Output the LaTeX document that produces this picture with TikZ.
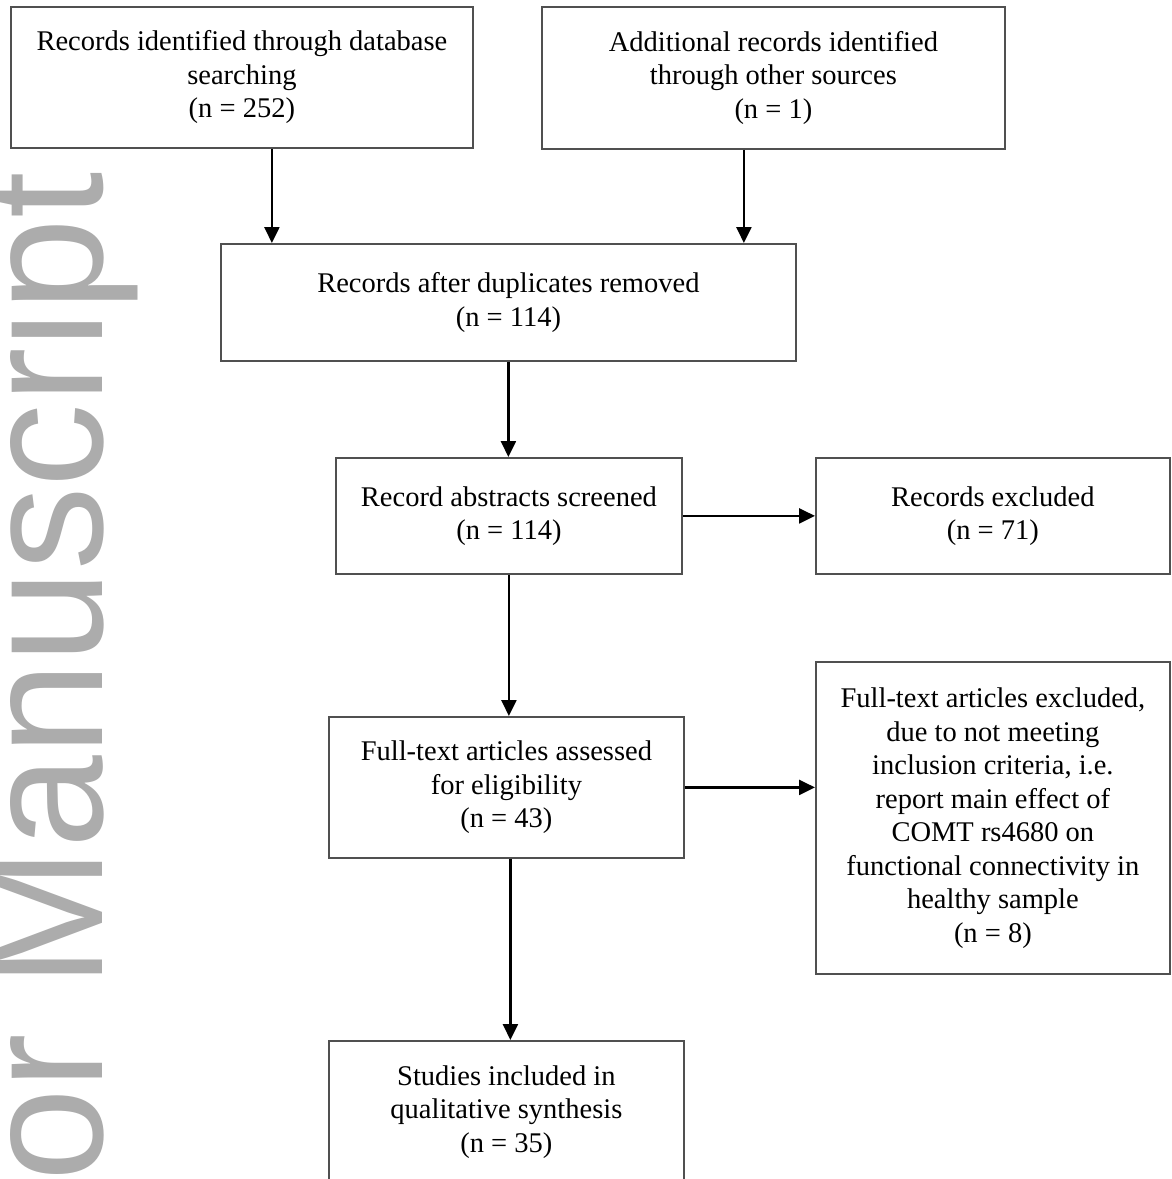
\documentclass[tikz,border=0pt]{standalone}
\usepackage{fontspec}
\setmainfont{Liberation Serif}
\newfontfamily\wmfont{Liberation Sans}
\usetikzlibrary{arrows.meta}
\definecolor{boxgray}{RGB}{80,80,80}
\definecolor{wmgray}{RGB}{172,172,172}
\begin{document}
\begin{tikzpicture}[x=1pt,y=-1pt,
  box/.style={draw=boxgray, line width=1.8pt, anchor=north west, align=center,
    inner sep=0pt, text=black, font=\fontsize{28.5}{33.5}\selectfont},
  arr/.style={-{Triangle[length=16pt,width=15pt]}, line width=2.4pt, draw=black}]
\useasboundingbox (0,0) rectangle (1171,1179);
\clip (0,0) rectangle (1171,1179);
\fill[white] (0,0) rectangle (1171,1179);
\node[text=wmgray, rotate=90, anchor=base west, inner sep=0pt,
  font=\wmfont\fontsize{171}{171}\selectfont] (wm) at (102,1182)
  {\scalebox{0.975}[1]{or Manuscript}};

\node[box, minimum width=462pt, minimum height=141pt] (A) at (10,6)
  {Records identified through database\\searching\\(n = 252)};
\node[box, minimum width=463pt, minimum height=142pt] (B) at (541,6)
  {Additional records identified\\through other sources\\(n = 1)};
\node[box, minimum width=575pt, minimum height=117pt] (C) at (220,243)
  {Records after duplicates removed\\(n = 114)};
\node[box, minimum width=346pt, minimum height=116pt] (D) at (335,457)
  {Record abstracts screened\\(n = 114)};
\node[box, minimum width=354pt, minimum height=116pt] (E) at (815,457)
  {Records excluded\\(n = 71)};
\node[box, minimum width=355pt, minimum height=141pt] (F) at (328,716)
  {Full-text articles assessed\\for eligibility\\(n = 43)};
\node[box, minimum width=354pt, minimum height=312pt] (G) at (815,661)
  {Full-text articles excluded,\\due to not meeting\\inclusion criteria, i.e.\\report main effect of\\COMT rs4680 on\\functional connectivity in\\healthy sample\\(n = 8)};
\node[box, minimum width=355pt, minimum height=142pt] (H) at (328,1040)
  {Studies included in\\qualitative synthesis\\(n = 35)};

\draw[arr] ([xshift=30pt]A.south) -- ([xshift=30pt]A.south |- C.north);
\draw[arr] ([xshift=-29.5pt]B.south) -- ([xshift=-29.5pt]B.south |- C.north);
\draw[arr] (C.south) -- (C.south |- D.north);
\draw[arr] (D.east) -- (D.east -| E.west);
\draw[arr] (D.south) -- (D.south |- F.north);
\draw[arr] (F.east) -- (F.east -| G.west);
\draw[arr] ([xshift=4pt]F.south) -- ([xshift=4pt]F.south |- H.north);
\end{tikzpicture}
\end{document}
